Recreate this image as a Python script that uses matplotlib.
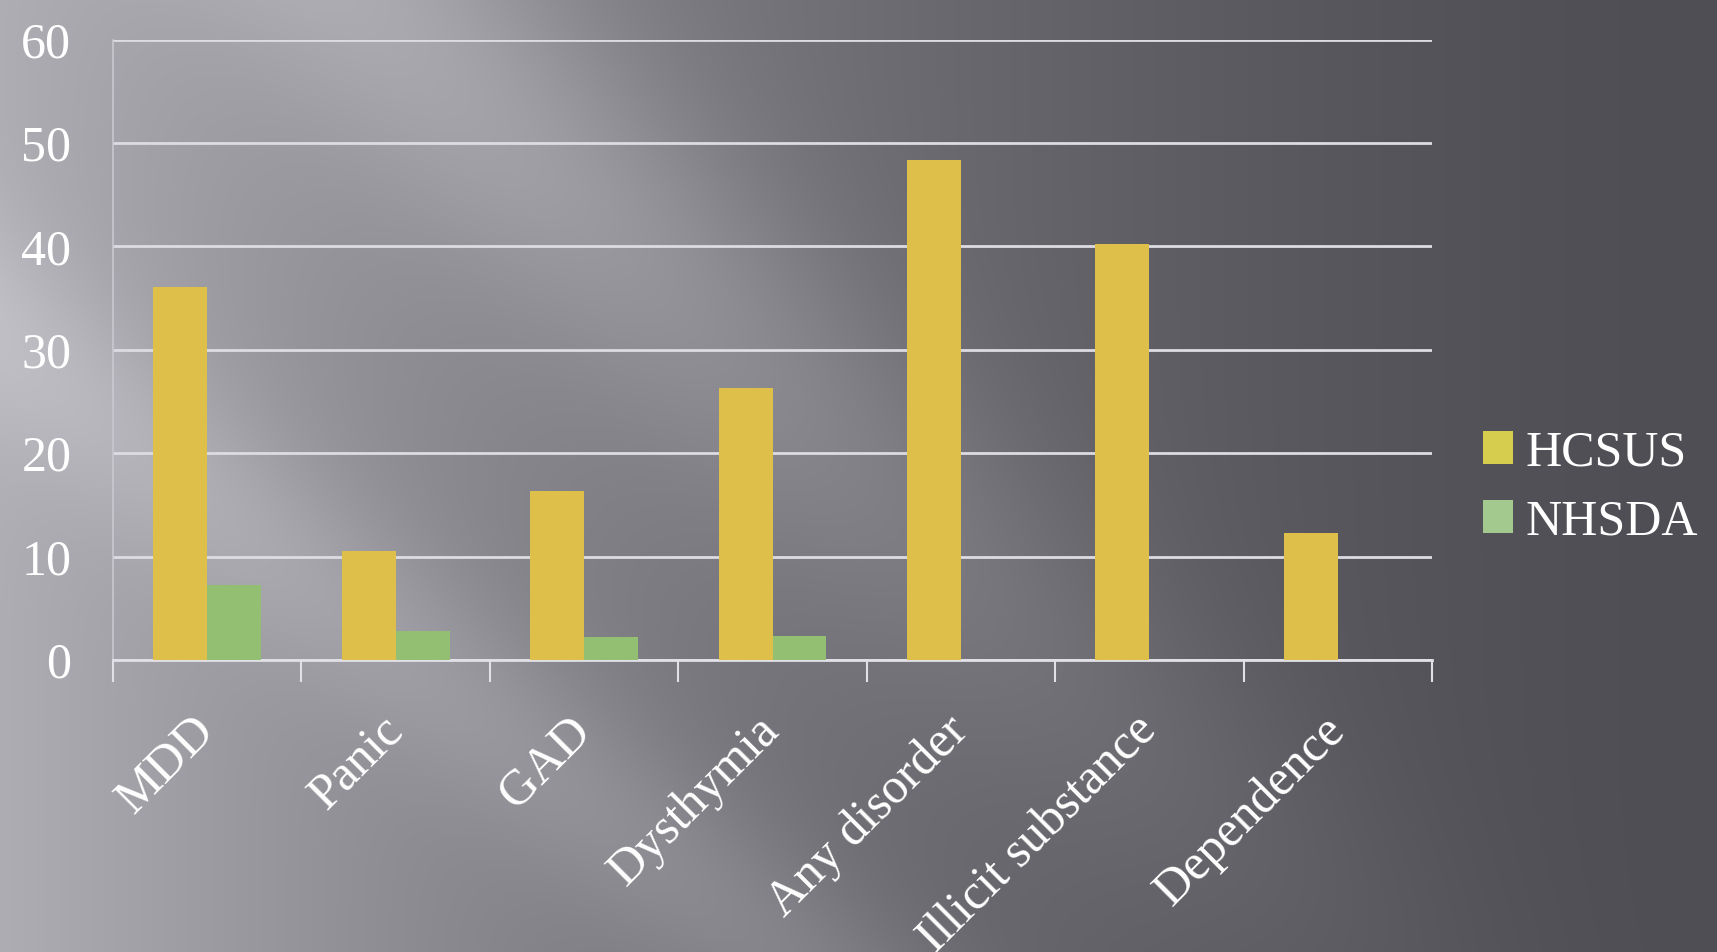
import numpy as np
import matplotlib
matplotlib.use("Agg")
import matplotlib.pyplot as plt
from matplotlib.patches import Patch

categories = ["MDD", "Panic", "GAD", "Dysthymia", "Any disorder", "Illicit substance", "Dependence"]
hcsus = [36.1, 10.5, 16.3, 26.3, 48.3, 40.2, 12.3]
nhsda = [7.3, 2.8, 2.2, 2.3, 0, 0, 0]
series_names = ["HCSUS", "NHSDA"]
yticks = [0, 10, 20, 30, 40, 50, 60]

W, H = 1717, 952
fig = plt.figure(figsize=(W / 100, H / 100), dpi=100)

# background gradient (style only)
bg = fig.add_axes([0, 0, 1, 1], zorder=-10)
yy, xx = np.mgrid[0:H, 0:W]
u = xx / W
v = yy / H
base = 78 + 95 * np.clip(1 - u, 0, 1) ** 1.6
# diagonal light streak
d1 = ((u - 0.22) - (v) * 0.55) / np.sqrt(1 + 0.55 ** 2)
streak1 = 28 * np.exp(-(d1 ** 2) / (2 * 0.07 ** 2)) * np.clip(1.2 - v, 0, 1)
d2 = ((u - 0.0) - (v - 0.35) * 0.7)
streak2 = 18 * np.exp(-(d2 ** 2) / (2 * 0.06 ** 2))
inten = base + streak1 + streak2
inten = np.clip(inten, 0, 255)
rgb = np.stack([inten, inten, inten + 6], axis=-1)
rgb = np.clip(rgb, 0, 255) / 255.0
bg.imshow(rgb, aspect="auto", extent=[0, 1, 0, 1], origin="upper")
bg.axis("off")

ax = fig.add_axes([113 / W, 1 - 660 / H, (1432 - 113) / W, (660 - 39.5) / H])
ax.set_facecolor("none")

x = np.arange(len(categories))
bw = 0.286
b1 = ax.bar(x - bw / 2, hcsus, width=bw, color="#DDBF4A", zorder=3, label=series_names[0])
b2 = ax.bar(x + bw / 2, nhsda, width=bw, color="#93BF72", zorder=3, label=series_names[1])

ax.set_xlim(-0.5, len(categories) - 0.5)
ax.set_ylim(0, 60)
ax.set_yticks(yticks)
ax.yaxis.grid(True, color="#dcdce2", linewidth=2.0, zorder=0)
ax.set_axisbelow(True)

font = "Liberation Serif"
ax.set_yticklabels([str(t) for t in yticks], fontsize=36, color="white", family=font)
ax.tick_params(axis="y", length=0, pad=30)

ax.set_xticks(x)
ax.set_xticklabels(categories, fontsize=36, color="white", family=font,
                   rotation=45, ha="right", va="center", rotation_mode="anchor")
ax.tick_params(axis="x", which="major", length=0, pad=46)
ax.set_xticks(np.arange(-0.5, len(categories)), minor=True)
ax.tick_params(axis="x", which="minor", length=16, width=1.5, color="#e0e0e6", direction="out")

for s in ["top", "right"]:
    ax.spines[s].set_visible(False)
ax.spines["bottom"].set_color("#e0e0e6")
ax.spines["bottom"].set_linewidth(2.0)
ax.spines["left"].set_color("#c8c8d0")
ax.spines["left"].set_linewidth(1.2)

handles = [Patch(facecolor="#D6CC4E"), Patch(facecolor="#A4C98E")]
leg = fig.legend(handles, series_names, loc="center left", bbox_to_anchor=(0.864, 0.488),
                 frameon=False, prop={"family": font, "size": 36}, labelcolor="white",
                 handlelength=0.6, handleheight=0.66, handletextpad=0.25,
                 labelspacing=0.45, borderpad=0, borderaxespad=0)

fig.savefig("out.png", dpi=100)
